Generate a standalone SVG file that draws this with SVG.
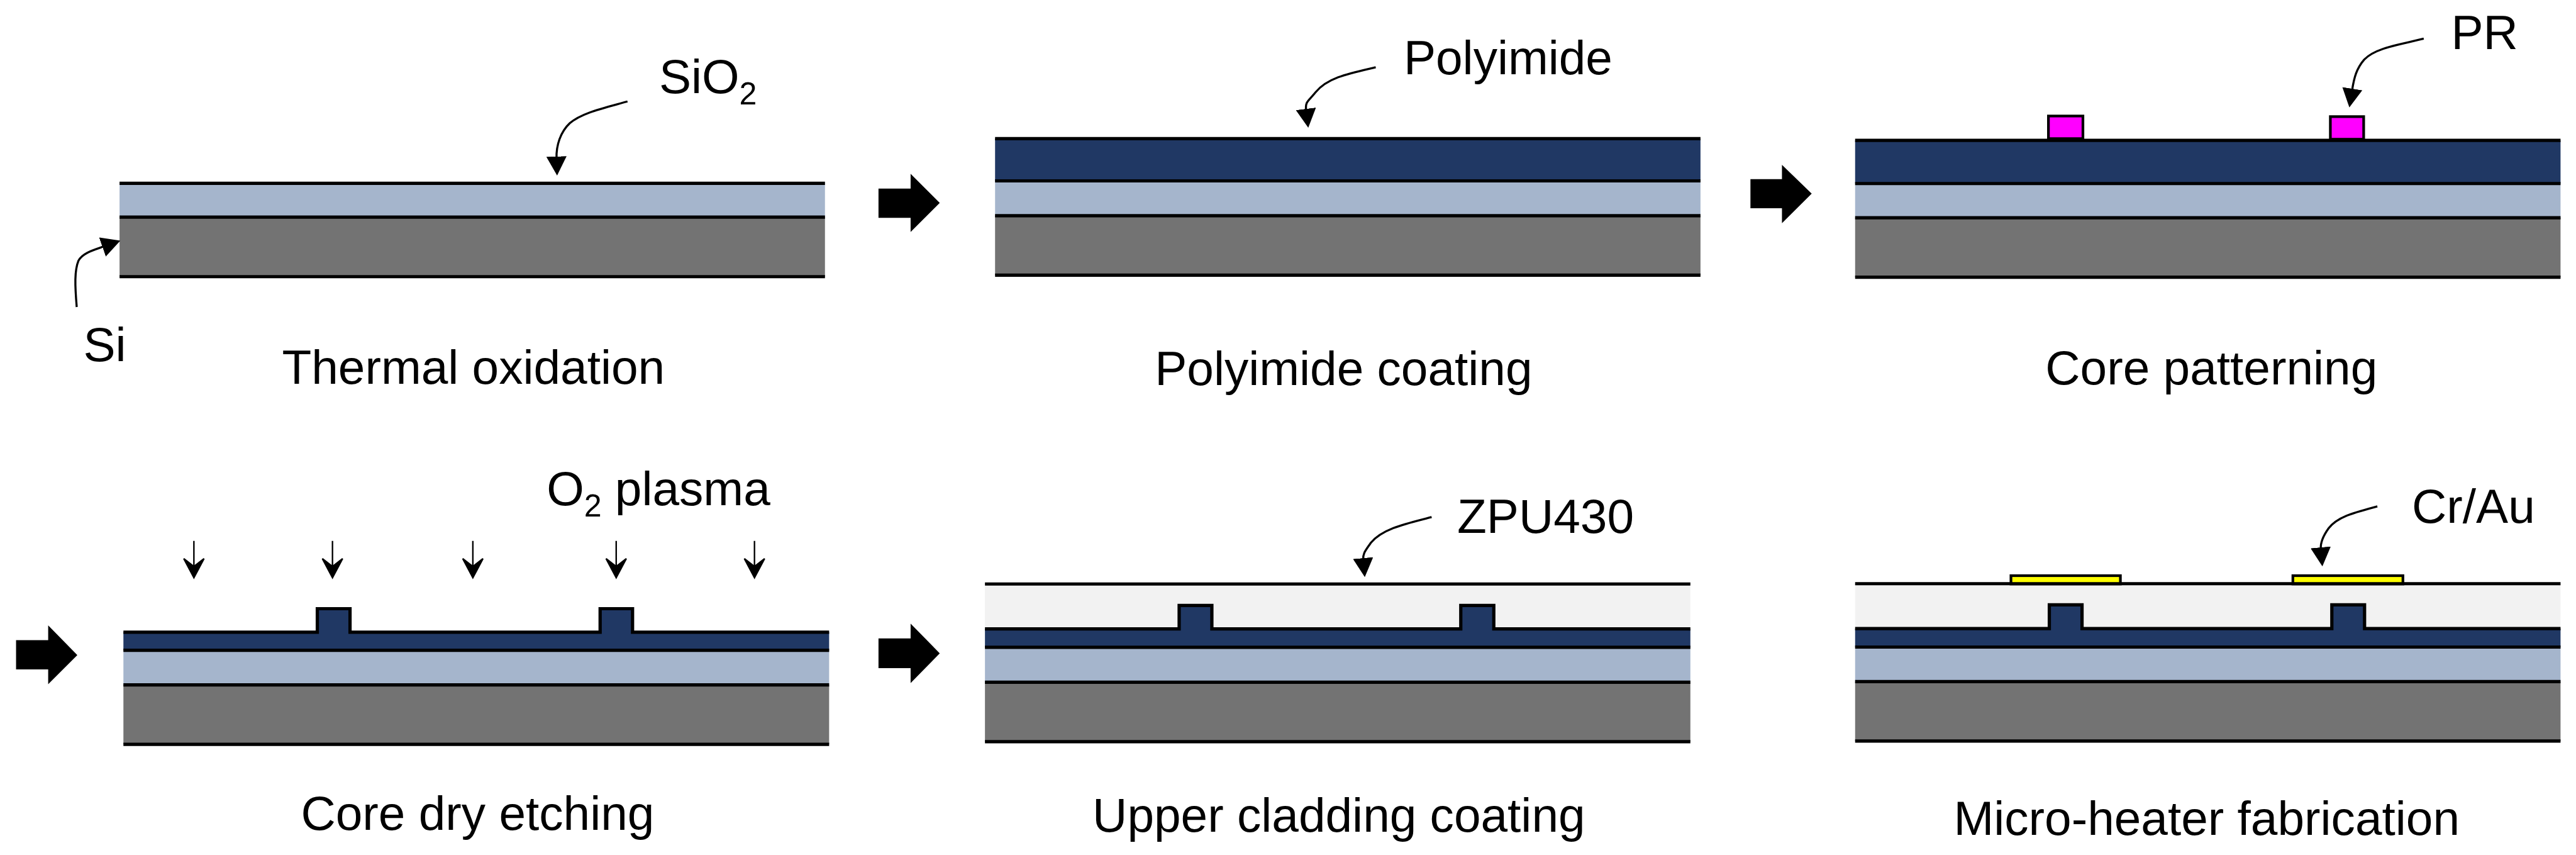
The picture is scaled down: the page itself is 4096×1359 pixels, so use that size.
<svg xmlns="http://www.w3.org/2000/svg" width="4096" height="1359" viewBox="0 0 4096 1359">
<style>
text{font-family:"Liberation Sans",Arial,sans-serif;font-size:81px;fill:#000}
.m{text-anchor:middle}
.sub{font-size:53px}
.si{fill:#737373}.ox{fill:#a5b5cc}.pi{fill:#203864}.cl{fill:#f2f2f2}
.ln{fill:none;stroke:#000;stroke-width:5.5}
.pr{fill:#f0f;stroke:#000;stroke-width:4.5}
.au{fill:#ff0;stroke:#000;stroke-width:4.5}
.lead{fill:none;stroke:#000;stroke-width:3.5;marker-end:url(#head)}
.pl{fill:none;stroke:#000;stroke-width:2.5}
.fat,.sh{fill:#000}
</style>
<defs>
<marker id="head" markerUnits="userSpaceOnUse" markerWidth="32" markerHeight="34" viewBox="0 0 32 34" refX="3" refY="17" orient="auto"><path d="M0,0L32,17L0,34Z" fill="#000"/></marker>
<path id="tiny" d="M0,0V45M0,62L-17,30L0,43L17,30Z"/>
</defs>
<g transform="scale(0.94574)">
<g id="step-1">
<rect class="ox" x="201" y="308" width="1186" height="57"/>
<rect class="si" x="201" y="365" width="1186" height="100"/>
<path class="ln" d="M201,308H1387M201,365H1387M201,465H1387"/>
<text x="1108" y="156">SiO<tspan class="sub" dy="19">2</tspan></text>
<text x="140" y="607">Si</text>
<text class="m" x="796" y="645">Thermal oxidation</text>
</g>
<g id="step-2">
<rect class="pi" x="1673" y="233" width="1186" height="71"/>
<rect class="ox" x="1673" y="304" width="1186" height="58.500"/>
<rect class="si" x="1673" y="362.500" width="1186" height="100"/>
<path class="ln" d="M1673,233H2859M1673,304H2859M1673,362.500H2859M1673,462.500H2859"/>
<text x="2360" y="125">Polyimide</text>
<text class="m" x="2259" y="647">Polyimide coating</text>
</g>
<g id="step-3">
<rect class="pi" x="3119" y="236" width="1186" height="72.500"/>
<rect class="ox" x="3119" y="308.500" width="1186" height="57.500"/>
<rect class="si" x="3119" y="366" width="1186" height="100"/>
<path class="ln" d="M3119,236H4305M3119,308.500H4305M3119,366H4305M3119,466H4305"/>
<rect class="pr" x="3444" y="195" width="58" height="38"/>
<rect class="pr" x="3918" y="196" width="56" height="38"/>
<text x="4121" y="83">PR</text>
<text class="m" x="3718" y="646">Core patterning</text>
</g>
<g id="step-4">
<path class="pi" d="M207.500,1062.500H533.500V1023H588.500V1062.500H1009V1023H1063.500V1062.500H1394V1093H207.500Z"/>
<rect class="ox" x="207.500" y="1093" width="1186.500" height="58"/>
<rect class="si" x="207.500" y="1151" width="1186.500" height="100"/>
<path class="ln" d="M207.500,1062.500H533.500V1023H588.500V1062.500H1009V1023H1063.500V1062.500H1394M207.500,1093H1394M207.500,1151H1394M207.500,1251H1394"/>
<text x="919" y="849">O<tspan class="sub" dy="19">2</tspan><tspan dy="-19"> plasma</tspan></text>
<text class="m" x="803" y="1395">Core dry etching</text>
</g>
<g id="step-5">
<rect class="cl" x="1656" y="981.500" width="1186" height="80"/>
<path class="pi" d="M1656,1057H1982.500V1017.500H2037.500V1057H2456V1017.500H2511.500V1057H2842V1088H1656Z"/>
<rect class="ox" x="1656" y="1088" width="1186" height="58.500"/>
<rect class="si" x="1656" y="1146.500" width="1186" height="100"/>
<path class="ln" d="M1656,981.500H2842M1656,1057H1982.500V1017.500H2037.500V1057H2456V1017.500H2511.500V1057H2842M1656,1088H2842M1656,1146.500H2842M1656,1246.500H2842"/>
<text x="2450" y="896">ZPU430</text>
<text class="m" x="2251" y="1398">Upper cladding coating</text>
</g>
<g id="step-6">
<rect class="cl" x="3119" y="981" width="1186" height="80"/>
<path class="pi" d="M3119,1056.500H3445.500V1016.500H3500.500V1056.500H3920.500V1016.500H3975.500V1056.500H4305V1087.500H3119Z"/>
<rect class="ox" x="3119" y="1087.500" width="1186" height="58"/>
<rect class="si" x="3119" y="1145.500" width="1186" height="100"/>
<rect class="au" x="3381" y="967.500" width="184" height="14"/>
<rect class="au" x="3855" y="967.500" width="185" height="14"/>
<path class="ln" d="M3119,981H4305M3119,1056.500H3445.500V1016.500H3500.500V1056.500H3920.500V1016.500H3975.500V1056.500H4305M3119,1087.500H4305M3119,1145.500H4305M3119,1245.500H4305"/>
<text x="4055" y="879">Cr/Au</text>
<text class="m" x="3710" y="1403.500">Micro-heater fabrication</text>
</g>
<g id="connectors">
<path class="fat" d="M1477,317H1531V292L1580,341L1531,390V366H1477Z"/>
<path class="fat" d="M2943,301H2996V277L3046,325.500L2996,375V350H2943Z"/>
<path class="fat" d="M27,1076H81V1051L130,1101L81,1150V1125H27Z"/>
<path class="fat" d="M1477,1073H1531V1048L1580,1098L1531,1148V1123H1477Z"/>
<path class="lead" d="M1055,170.500C1010,183 978,190 958,207C942,222 935,245 935.700,266"/>
<path class="lead" d="M129,516C126,480 125,455 132,438C139,425 158,420 175,414"/>
<path class="lead" d="M2313,113C2270,123 2232,130 2212,155C2200,170 2194,170 2196,186"/>
<path class="lead" d="M4075,65C4035,75 3995,80 3975,100C3962,115 3958,130 3954.500,152"/>
<path class="lead" d="M2407,869C2365,880 2325,888 2305,912C2296,925 2291,930 2292,941"/>
<path class="lead" d="M3997,851C3960,861 3930,868 3915,888C3905,902 3901,912 3902,923"/>
<g class="pl">
<use href="#tiny" x="326" y="909" class="sh"/>
<use href="#tiny" x="559" y="909" class="sh"/>
<use href="#tiny" x="795" y="909" class="sh"/>
<use href="#tiny" x="1036" y="909" class="sh"/>
<use href="#tiny" x="1268.500" y="909" class="sh"/>
</g>
</g>
</g>
</svg>
